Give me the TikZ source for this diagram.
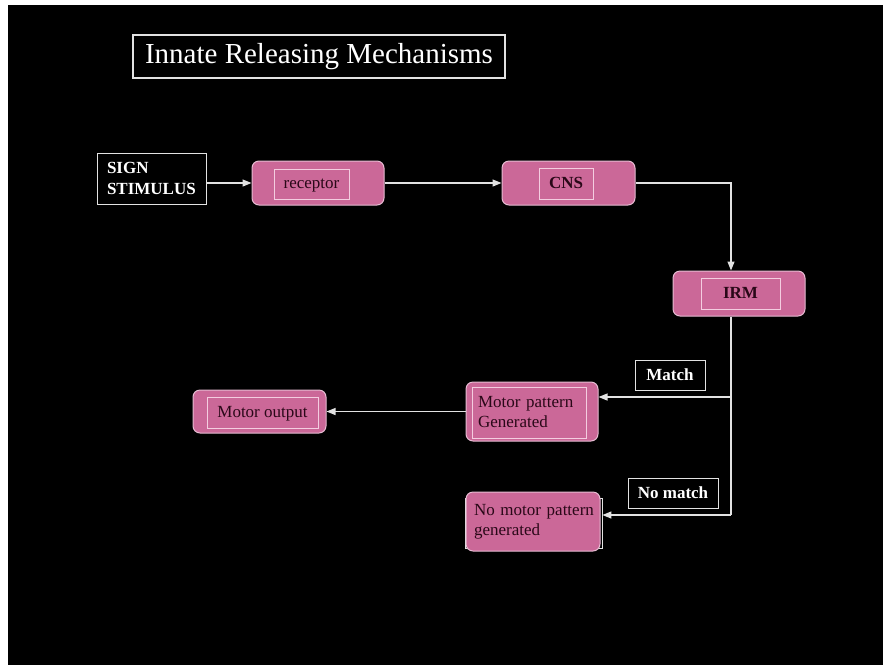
\documentclass[tikz,border=0pt]{standalone}
\usepackage{fontspec}
\setmainfont{Liberation Serif}
\usepackage{tikz}
\usetikzlibrary{arrows.meta,positioning,calc}
\definecolor{irmPink}{HTML}{CB6898}
\definecolor{irmEdge}{HTML}{E6BCD2}
\definecolor{irmInner}{HTML}{F4CDE0}
\definecolor{irmText}{HTML}{2A0818}
\definecolor{irmLine}{HTML}{E2E2E2}

\begin{document}
\begin{tikzpicture}[x=1pt,y=-1pt]
    \tikzset{
      pbox/.style={draw=irmEdge, line width=1pt, fill=irmPink, rounded corners=7pt, inner sep=0pt},
      pinner/.style={draw=irmInner, line width=1pt, inner sep=0pt, font=\fontsize{17}{20}\selectfont, text=irmText},
      pone/.style={pinner, text height=11pt, text depth=2pt},
      wbox/.style={draw=irmLine, line width=1pt, inner sep=0pt, text=white, font=\fontsize{17}{21}\selectfont\bfseries},
      link/.style={draw=irmLine, line width=1.2pt},
      larrow/.style={link, -{Triangle[length=9pt,width=7pt]}}
    }
    \useasboundingbox (0,0) rectangle (883,665);
    \fill[white] (0,0) rectangle (883,665);
    \fill[black] (8,5) rectangle (883,665);

    % Title
    \node[draw=irmLine, line width=1.3pt, minimum width=372pt, minimum height=43pt, inner sep=0pt,
          text=white, font=\fontsize{29}{32}\selectfont] (title) at (319,56.5) {Innate Releasing Mechanisms};

    % Top row
    \node[wbox, minimum width=109pt, minimum height=51pt, text width=89pt, align=left] (sign) at (151.5,178.5) {SIGN\\STIMULUS};
    \node[pbox, minimum width=132pt, minimum height=44pt] (rec) at (318,183) {};
    \node[pone, minimum width=75pt, minimum height=30pt] (recT) at (311.5,184) {receptor};
    \node[pbox, minimum width=133pt, minimum height=44pt] (cns) at (568.5,183) {};
    \node[pone, minimum width=54pt, minimum height=31pt, font=\fontsize{17}{20}\selectfont\bfseries] (cnsT) at (566,183.5) {CNS};

    % IRM
    \node[pbox, minimum width=132pt, minimum height=45pt] (irm) at (739,293.5) {};
    \node[pone, minimum width=79pt, minimum height=31pt, font=\fontsize{17}{20}\selectfont\bfseries] (irmT) at (740.5,293.5) {IRM};

    % Outcomes
    \node[pbox, minimum width=132pt, minimum height=59pt] (mp) at (532,411.5) {};
    \node[pinner, minimum width=114pt, minimum height=51pt, text width=102pt, align=left] (mpT) at (529,412.5) {Motor pattern\\Generated};
    \node[pbox, minimum width=133pt, minimum height=43pt] (mo) at (259.5,411.5) {};
    \node[pone, minimum width=111pt, minimum height=31pt] (moT) at (262.5,412.5) {Motor output};
    \node[draw=irmLine, line width=0.8pt, minimum width=137pt, minimum height=50pt] (nmpR) at (533.5,523) {};
    \node[pbox, minimum width=134pt, minimum height=59pt] (nmp) at (533,521.5) {};
    \node[inner sep=0pt, text width=122pt, align=left, text=irmText, font=\fontsize{17}{20}\selectfont] (nmpT) at (535,521.5) {No motor pattern\\generated};

    % Labels
    \node[wbox, minimum width=70pt, minimum height=30pt] (match) at (670,375) {Match};
    \node[wbox, minimum width=90pt, minimum height=30pt] (nomatch) at (673,493) {No match};

    % Connectors
    \coordinate (cbend) at (731,183);
    \coordinate (mbend) at (731,397);
    \coordinate (nbend) at (731,515);
    \draw[larrow] (sign.east |- rec.west) -- (rec.west);
    \draw[larrow] (rec.east) -- (cns.west);
    \draw[larrow] (cns.east) -- (cbend) -- (cbend |- irm.north);
    \draw[link] (irm.south -| cbend) -- (nbend);
    \draw[larrow] (mbend) -- (mp.east |- mbend);
    \draw[larrow] (nbend) -- (nmpR.east |- nbend);
    \draw[larrow] (mp.west |- mo.east) -- (mo.east);
\end{tikzpicture}
\end{document}
